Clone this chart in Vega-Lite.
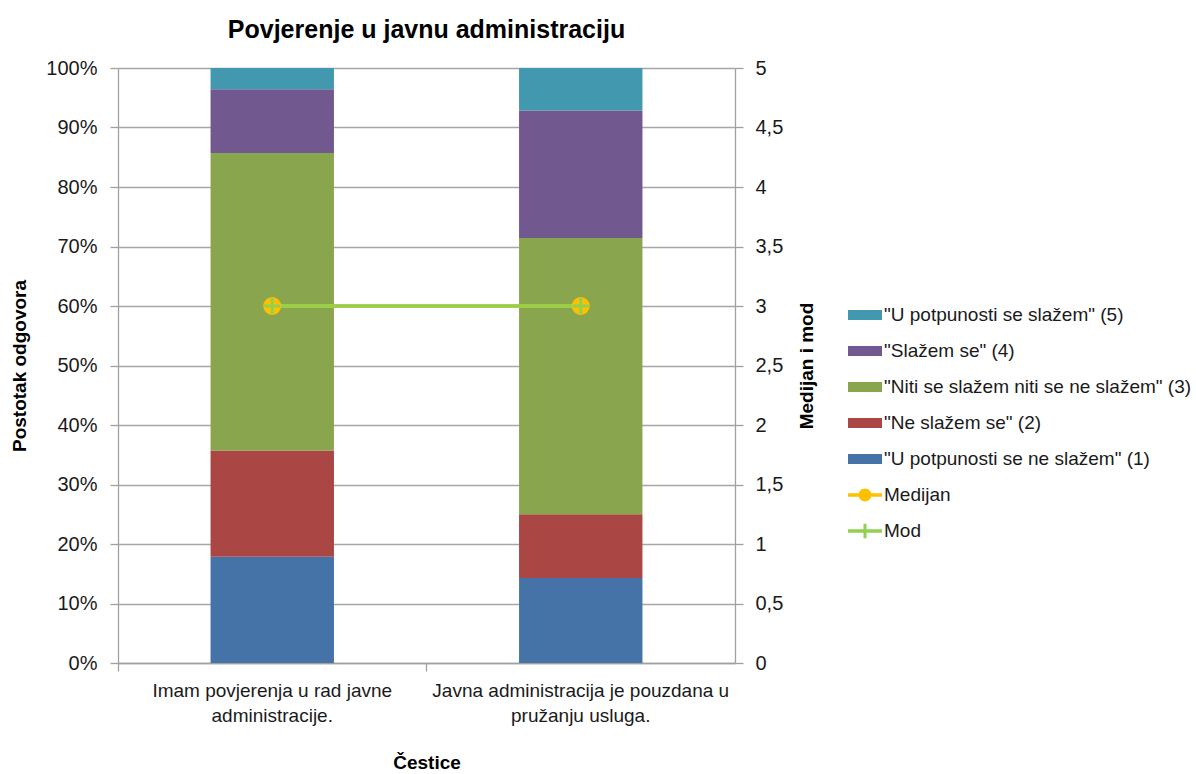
{
  "$schema": "https://vega.github.io/schema/vega-lite/v6.json",
  "autosize": {"type": "none"},
  "padding": {"left": 118, "top": 68, "right": 461, "bottom": 111},
  "width": 617,
  "height": 595,
  "background": "white",
  "config": {
    "font": "Liberation Sans, Arial, sans-serif",
    "view": {"stroke": null},
    "axis": {"labelColor": "#1a1a1a", "titleColor": "#000000", "domainColor": "#a0a0a0", "tickColor": "#a0a0a0", "domainWidth": 1.3, "tickWidth": 1.3}
  },
  "title": {"text": "Povjerenje u javnu administraciju", "fontSize": 25, "fontWeight": "bold", "anchor": "middle", "frame": "group", "offset": 15, "color": "#000000"},
  "datasets": {
    "odgovori": [
      {"cestica": "Imam povjerenja u rad javne administracije.", "odgovor": "\"U potpunosti se ne slažem\" (1)", "rang": 1, "postotak": 17.86},
      {"cestica": "Imam povjerenja u rad javne administracije.", "odgovor": "\"Ne slažem se\" (2)", "rang": 2, "postotak": 17.86},
      {"cestica": "Imam povjerenja u rad javne administracije.", "odgovor": "\"Niti se slažem niti se ne slažem\" (3)", "rang": 3, "postotak": 50.0},
      {"cestica": "Imam povjerenja u rad javne administracije.", "odgovor": "\"Slažem se\" (4)", "rang": 4, "postotak": 10.71},
      {"cestica": "Imam povjerenja u rad javne administracije.", "odgovor": "\"U potpunosti se slažem\" (5)", "rang": 5, "postotak": 3.57},
      {"cestica": "Javna administracija je pouzdana u pružanju usluga.", "odgovor": "\"U potpunosti se ne slažem\" (1)", "rang": 1, "postotak": 14.29},
      {"cestica": "Javna administracija je pouzdana u pružanju usluga.", "odgovor": "\"Ne slažem se\" (2)", "rang": 2, "postotak": 10.71},
      {"cestica": "Javna administracija je pouzdana u pružanju usluga.", "odgovor": "\"Niti se slažem niti se ne slažem\" (3)", "rang": 3, "postotak": 46.43},
      {"cestica": "Javna administracija je pouzdana u pružanju usluga.", "odgovor": "\"Slažem se\" (4)", "rang": 4, "postotak": 21.43},
      {"cestica": "Javna administracija je pouzdana u pružanju usluga.", "odgovor": "\"U potpunosti se slažem\" (5)", "rang": 5, "postotak": 7.14}
    ],
    "statistike": [
      {"cestica": "Imam povjerenja u rad javne administracije.", "mjera": "Medijan", "vrijednost": 3},
      {"cestica": "Javna administracija je pouzdana u pružanju usluga.", "mjera": "Medijan", "vrijednost": 3},
      {"cestica": "Imam povjerenja u rad javne administracije.", "mjera": "Mod", "vrijednost": 3},
      {"cestica": "Javna administracija je pouzdana u pružanju usluga.", "mjera": "Mod", "vrijednost": 3}
    ],
    "legenda": [
      {"serija": "\"U potpunosti se slažem\" (5)"},
      {"serija": "\"Slažem se\" (4)"},
      {"serija": "\"Niti se slažem niti se ne slažem\" (3)"},
      {"serija": "\"Ne slažem se\" (2)"},
      {"serija": "\"U potpunosti se ne slažem\" (1)"},
      {"serija": "Medijan"},
      {"serija": "Mod"}
    ]
  },
  "encoding": {
    "x": {
      "field": "cestica", "type": "nominal",
      "sort": ["Imam povjerenja u rad javne administracije.", "Javna administracija je pouzdana u pružanju usluga."],
      "scale": {"domain": ["Imam povjerenja u rad javne administracije.", "Javna administracija je pouzdana u pružanju usluga."], "paddingInner": 0.6, "paddingOuter": 0.3},
      "axis": {
        "title": "Čestice", "titleFontSize": 19, "titleFontWeight": "bold", "titlePadding": 28,
        "labelAngle": 0, "labelFontSize": 19, "labelLineHeight": 25, "labelLimit": 400, "labelPadding": 10,
        "ticks": true, "tickSize": 8, "bandPosition": -0.75, "grid": false,
        "labelExpr": "datum.value == 'Imam povjerenja u rad javne administracije.' ? ['Imam povjerenja u rad javne', 'administracije.'] : ['Javna administracija je pouzdana u', 'pružanju usluga.']"
      }
    }
  },
  "layer": [
    {
      "layer": [
        {
          "data": {"name": "odgovori"},
          "mark": {"type": "bar"},
          "encoding": {
            "y": {
              "field": "postotak", "type": "quantitative", "stack": "zero",
              "scale": {"domain": [0, 100], "nice": false},
              "axis": {
                "title": "Postotak odgovora", "titleFontSize": 19, "titleFontWeight": "bold", "titlePadding": 16,
                "values": [0, 10, 20, 30, 40, 50, 60, 70, 80, 90, 100],
                "labelExpr": "datum.value + '%'", "labelFontSize": 20, "labelPadding": 13, "tickSize": 8,
                "grid": true, "gridColor": "#a6a6a6", "gridWidth": 1.3
              }
            },
            "fill": {
              "field": "odgovor", "type": "nominal",
              "scale": {
                "domain": ["\"U potpunosti se slažem\" (5)", "\"Slažem se\" (4)", "\"Niti se slažem niti se ne slažem\" (3)", "\"Ne slažem se\" (2)", "\"U potpunosti se ne slažem\" (1)"],
                "range": ["#4198AF", "#71588F", "#89A54E", "#AA4643", "#4572A7"]
              },
              "legend": null
            },
            "order": {"field": "rang", "sort": "ascending"}
          }
        },
        {
          "data": {"name": "legenda"},
          "mark": {"type": "point", "filled": true, "opacity": 0},
          "encoding": {
            "color": {
              "field": "serija", "type": "nominal",
              "scale": {
                "domain": ["\"U potpunosti se slažem\" (5)", "\"Slažem se\" (4)", "\"Niti se slažem niti se ne slažem\" (3)", "\"Ne slažem se\" (2)", "\"U potpunosti se ne slažem\" (1)", "Medijan", "Mod"],
                "range": ["#4198AF", "#71588F", "#89A54E", "#AA4643", "#4572A7", "#FFC000", "#92D050"]
              },
              "legend": {
                "title": null, "orient": "none", "legendX": 730, "legendY": 230,
                "symbolSize": 1156, "symbolOpacity": 1, "symbolStrokeWidth": 0,
                "labelFontSize": 19, "labelColor": "#1a1a1a", "labelLimit": 400, "labelOffset": 2, "rowPadding": 9
              }
            },
            "shape": {
              "field": "serija", "type": "nominal",
              "scale": {
                "domain": ["\"U potpunosti se slažem\" (5)", "\"Slažem se\" (4)", "\"Niti se slažem niti se ne slažem\" (3)", "\"Ne slažem se\" (2)", "\"U potpunosti se ne slažem\" (1)", "Medijan", "Mod"],
                "range": [
                  "M-1,-0.3H1V0.3H-1Z",
                  "M-1,-0.3H1V0.3H-1Z",
                  "M-1,-0.3H1V0.3H-1Z",
                  "M-1,-0.3H1V0.3H-1Z",
                  "M-1,-0.3H1V0.3H-1Z",
                  "M-1,-0.1H1V0.1H-1Z M0.38,0A0.38,0.38,0,1,1,-0.38,0A0.38,0.38,0,1,1,0.38,0Z",
                  "M-1,-0.1H1V0.1H-1Z M-0.09,-0.42H0.09V0.42H-0.09Z"
                ]
              },
              "legend": {
                "title": null, "orient": "none", "legendX": 730, "legendY": 230,
                "symbolSize": 1156, "symbolOpacity": 1, "symbolStrokeWidth": 0,
                "labelFontSize": 19, "labelColor": "#1a1a1a", "labelLimit": 400, "labelOffset": 2, "rowPadding": 9
              }
            }
          }
        }
      ]
    },
    {
      "data": {"name": "statistike"},
      "encoding": {
        "y": {
          "field": "vrijednost", "type": "quantitative",
          "scale": {"domain": [0, 5], "nice": false},
          "axis": {
            "orient": "right", "title": "Medijan i mod", "titleFontSize": 19, "titleFontWeight": "bold",
            "titleAngle": 270, "titleBaseline": "top", "titlePadding": 15,
            "values": [0, 0.5, 1, 1.5, 2, 2.5, 3, 3.5, 4, 4.5, 5],
            "labelExpr": "replace(format(datum.value, '~g'), '.', ',')",
            "labelFontSize": 20, "labelPadding": 12, "tickSize": 8, "grid": false
          }
        }
      },
      "layer": [
        {"transform": [{"filter": "datum.mjera == 'Medijan'"}], "mark": {"type": "line", "color": "#FFC000", "strokeWidth": 3.5}},
        {"transform": [{"filter": "datum.mjera == 'Mod'"}], "mark": {"type": "line", "color": "#92D050", "strokeWidth": 3.5}},
        {"transform": [{"filter": "datum.mjera == 'Medijan'"}], "mark": {"type": "point", "shape": "circle", "filled": true, "color": "#FFC000", "size": 324, "opacity": 1}},
        {"transform": [{"filter": "datum.mjera == 'Mod'"}], "mark": {"type": "point", "shape": "M-1,-0.18H1V0.18H-1Z M-0.18,-1H0.18V1H-0.18Z", "filled": true, "color": "#92D050", "size": 256, "opacity": 1}}
      ]
    }
  ],
  "resolve": {"scale": {"y": "independent"}, "axis": {"y": "independent"}}
}
